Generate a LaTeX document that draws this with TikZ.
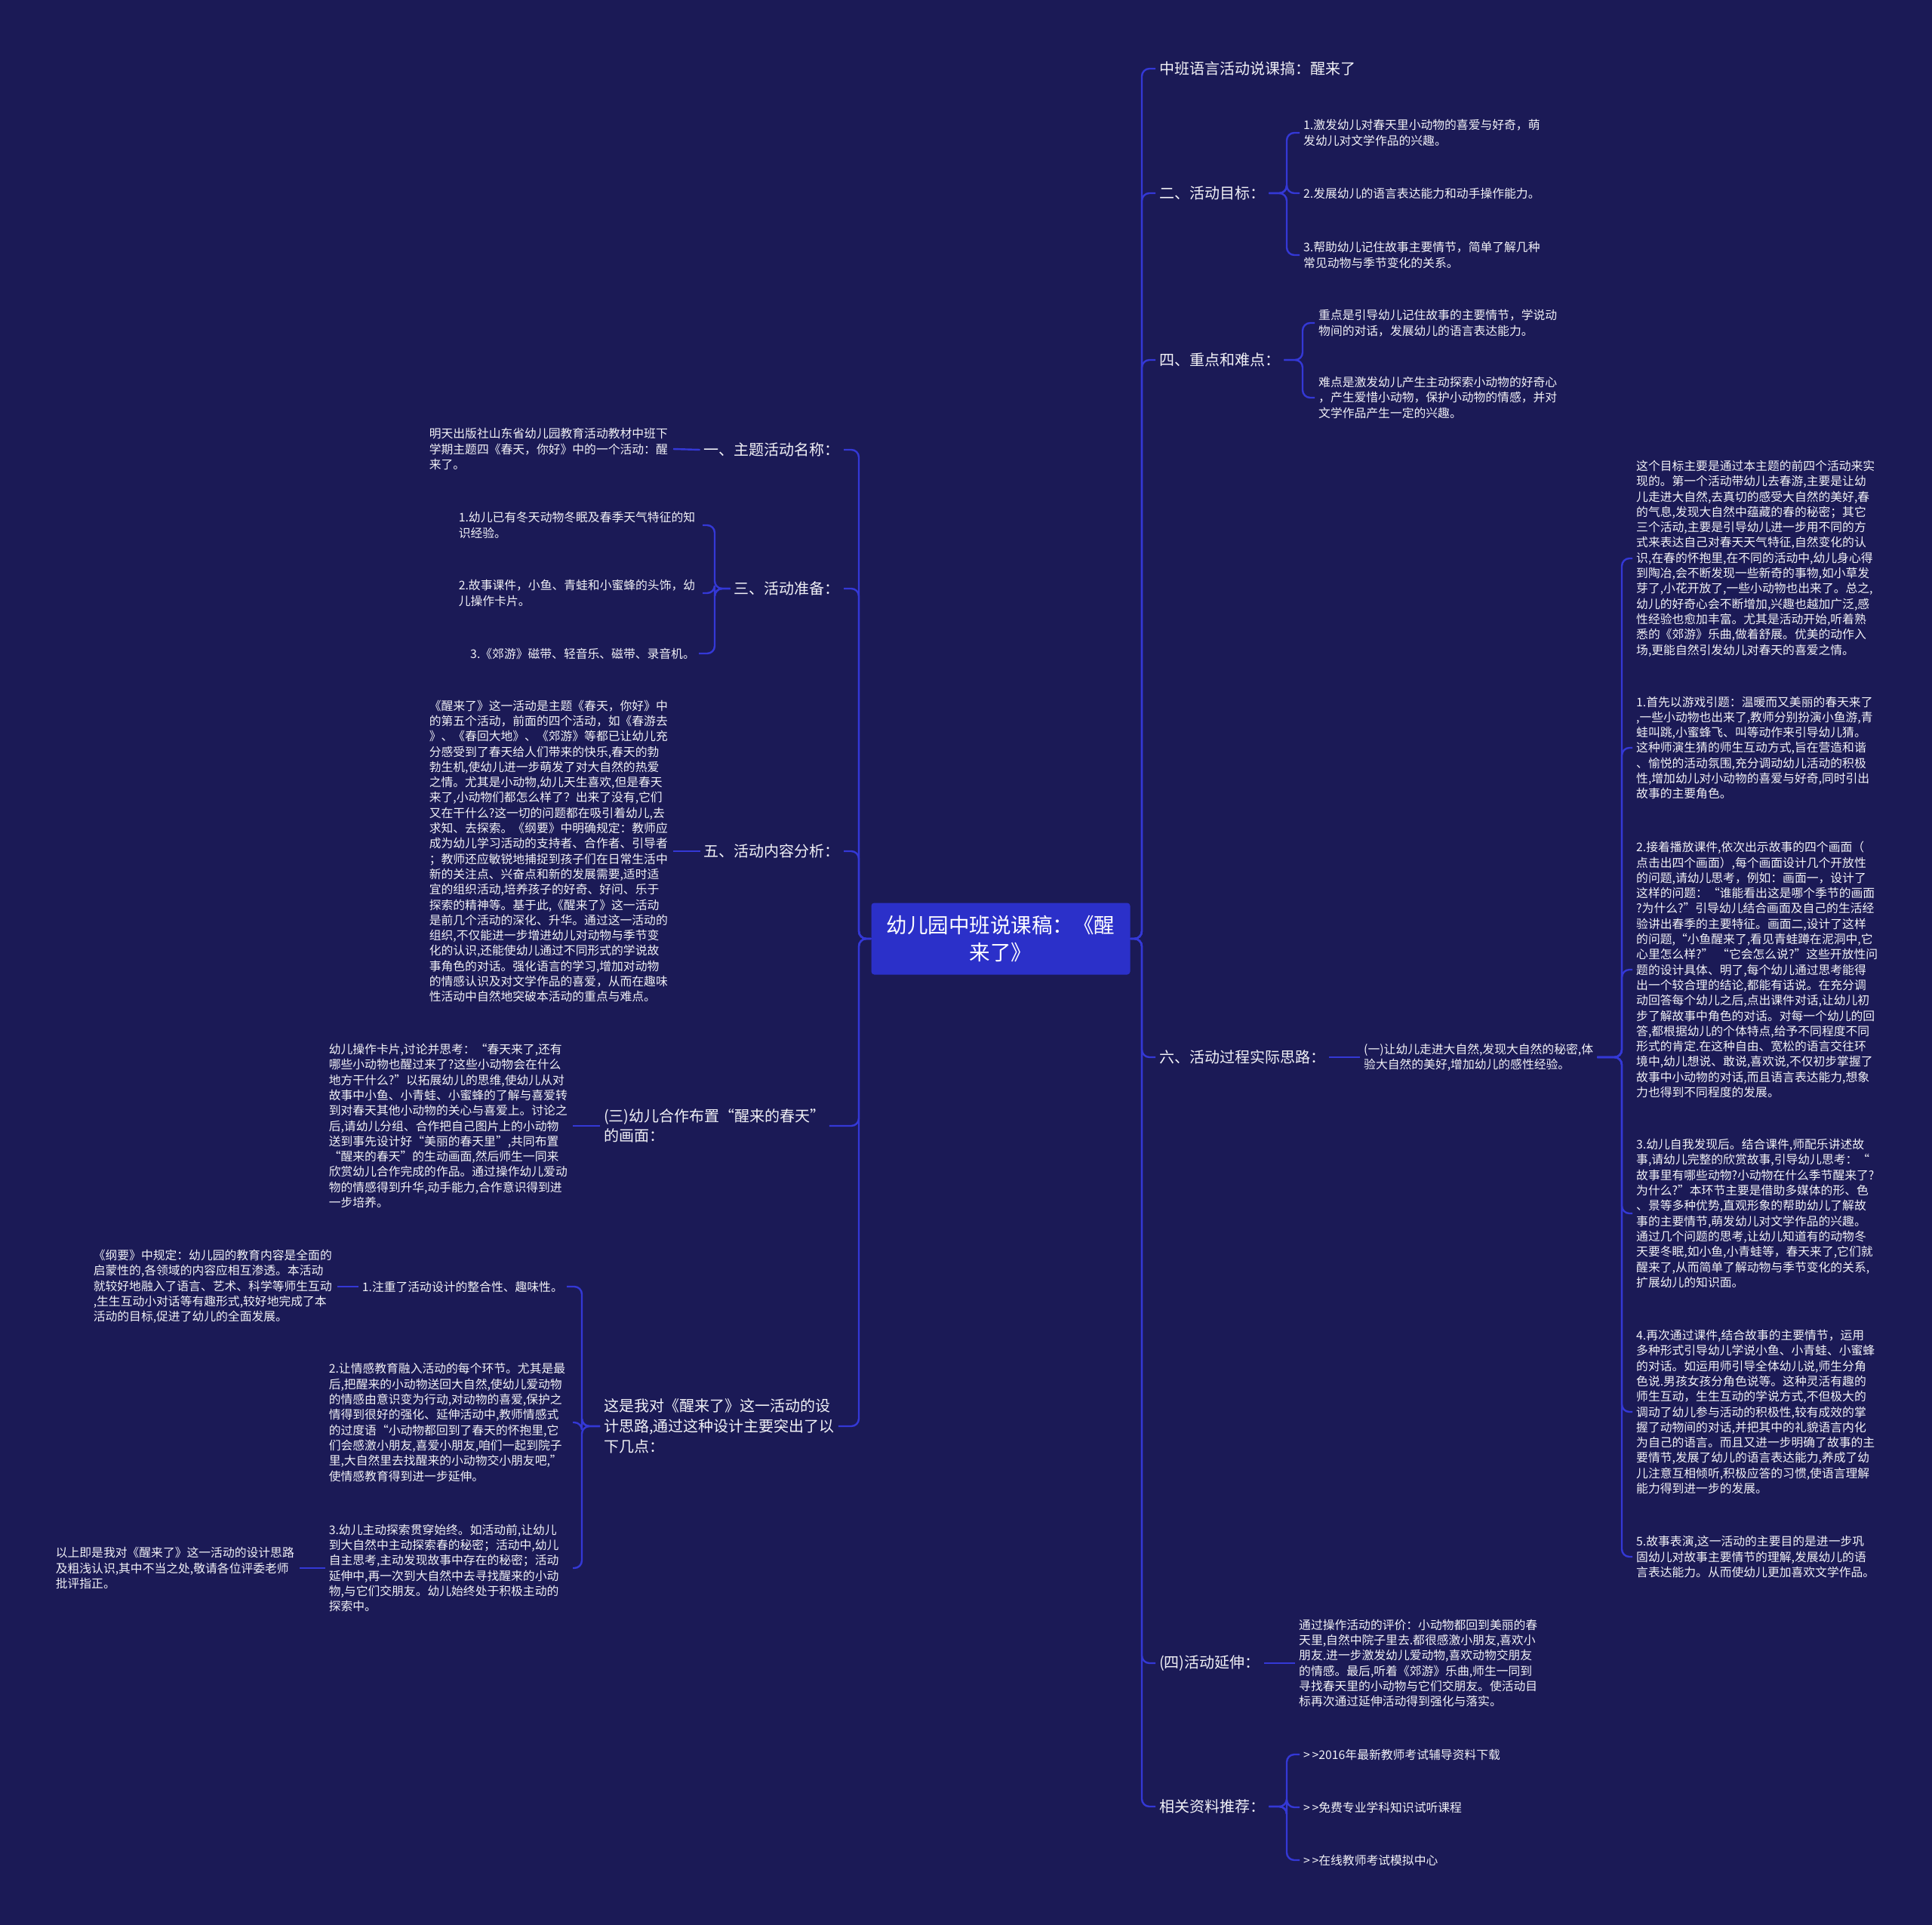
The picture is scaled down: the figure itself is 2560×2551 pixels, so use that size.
\documentclass[tikz,border=0pt]{standalone}
\usepackage{fontspec}
\setmainfont{Noto Sans CJK SC}
\usepackage{xcolor}
\definecolor{mapbg}{HTML}{1B1A56}
\definecolor{mapline}{HTML}{3438D6}
\definecolor{maproot}{HTML}{2B30C9}
\definecolor{maptext}{HTML}{F2F2F7}
\usetikzlibrary{positioning,calc}
\tikzset{
  mb/.style={inner sep=5pt, text=maptext, align=left},
  mtop/.style={mb, font=\fontsize{20}{26}\selectfont},
  mleaf/.style={mb, font=\fontsize{15.8}{20.3}\selectfont},
  mpara/.style={mleaf, text width=318pt},
  mroot/.style={fill=maproot, rounded corners=4pt, text=white, align=center,
    minimum width=343pt, minimum height=95pt, font=\fontsize{27.5}{36}\selectfont},
  ln/.style={draw=mapline, line width=2.4pt, rounded corners=10pt},
}

\begin{document}
\begin{tikzpicture}[x=1pt, y=-1pt]
  \fill[mapbg] (0,0) rectangle (2560,2551);
  \useasboundingbox (0,0) rectangle (2560,2551);

  \node[mroot] (root) at (1326,1244) {幼儿园中班说课稿：《醒\\来了》};
  \coordinate (rtrunk) at (1513,1244);
  \coordinate (ltrunk) at (1138,1244);

  % right side
  \node[mtop, anchor=west] (t0) at (1531,91) {中班语言活动说课搞：醒来了};
  \node[mtop, anchor=west] (g2) at (1531,256) {二、活动目标：};
  \node[mtop, anchor=west] (g4) at (1531,477) {四、重点和难点：};
  \node[mtop, anchor=west] (g6) at (1531,1401) {六、活动过程实际思路：};
  \node[mtop, anchor=west] (gext) at (1531,2204) {(四)活动延伸：};
  \node[mtop, anchor=west] (grec) at (1531,2394) {相关资料推荐：};
  \foreach \n in {t0,g2,g4,g6,gext,grec}
    \draw[ln] (root.east) -- (rtrunk) |- (\n.west);

  \node[mleaf, anchor=west] (g2a) at (1722,176) {1.激发幼儿对春天里小动物的喜爱与好奇，萌\\发幼儿对文学作品的兴趣。};
  \node[mleaf, anchor=west] (g2b) at (1722,256) {2.发展幼儿的语言表达能力和动手操作能力。};
  \node[mleaf, anchor=west] (g2c) at (1722,338) {3.帮助幼儿记住故事主要情节，简单了解几种\\常见动物与季节变化的关系。};
  \coordinate (b2) at (1705,256);
  \foreach \n in {g2a,g2b,g2c}
    \draw[ln] (g2.east) -- (b2) |- (\n.west);

  \node[mleaf, anchor=west] (g4a) at (1742,428) {重点是引导幼儿记住故事的主要情节，学说动\\物间的对话，发展幼儿的语言表达能力。};
  \node[mleaf, anchor=west] (g4b) at (1742,527) {难点是激发幼儿产生主动探索小动物的好奇心\\，产生爱惜小动物，保护小动物的情感，并对\\文学作品产生一定的兴趣。};
  \coordinate (b4) at (1726,477);
  \foreach \n in {g4a,g4b}
    \draw[ln] (g4.east) -- (b4) |- (\n.west);

  \node[mleaf, anchor=west] (g6a) at (1802,1401) {(一)让幼儿走进大自然,发现大自然的秘密,体\\验大自然的美好,增加幼儿的感性经验。};
  \draw[ln] (g6.east) -- (g6a.west);

  \node[mleaf, anchor=west] (p0) at (2163,740) {这个目标主要是通过本主题的前四个活动来实\\现的。第一个活动带幼儿去春游,主要是让幼\\儿走进大自然,去真切的感受大自然的美好,春\\的气息,发现大自然中蕴藏的春的秘密；其它\\三个活动,主要是引导幼儿进一步用不同的方\\式来表达自己对春天天气特征,自然变化的认\\识,在春的怀抱里,在不同的活动中,幼儿身心得\\到陶冶,会不断发现一些新奇的事物,如小草发\\芽了,小花开放了,一些小动物也出来了。总之,\\幼儿的好奇心会不断增加,兴趣也越加广泛,感\\性经验也愈加丰富。尤其是活动开始,听着熟\\悉的《郊游》乐曲,做着舒展。优美的动作入\\场,更能自然引发幼儿对春天的喜爱之情。};
  \node[mleaf, anchor=west] (p1) at (2163,991) {1.首先以游戏引题：温暖而又美丽的春天来了\\,一些小动物也出来了,教师分别扮演小鱼游,青\\蛙叫跳,小蜜蜂飞、叫等动作来引导幼儿猜。\\这种师演生猜的师生互动方式,旨在营造和谐\\、愉悦的活动氛围,充分调动幼儿活动的积极\\性,增加幼儿对小动物的喜爱与好奇,同时引出\\故事的主要角色。};
  \node[mleaf, anchor=west] (p2) at (2163,1285) {2.接着播放课件,依次出示故事的四个画面（\\点击出四个画面）,每个画面设计几个开放性\\的问题,请幼儿思考，例如：画面一，设计了\\这样的问题：“谁能看出这是哪个季节的画面\\?为什么?”引导幼儿结合画面及自己的生活经\\验讲出春季的主要特征。画面二,设计了这样\\的问题,“小鱼醒来了,看见青蛙蹲在泥洞中,它\\心里怎么样?” “它会怎么说?”这些开放性问\\题的设计具体、明了,每个幼儿通过思考能得\\出一个较合理的结论,都能有话说。在充分调\\动回答每个幼儿之后,点出课件对话,让幼儿初\\步了解故事中角色的对话。对每一个幼儿的回\\答,都根据幼儿的个体特点,给予不同程度不同\\形式的肯定.在这种自由、宽松的语言交往环\\境中,幼儿想说、敢说,喜欢说,不仅初步掌握了\\故事中小动物的对话,而且语言表达能力,想象\\力也得到不同程度的发展。};
  \node[mleaf, anchor=west] (p3) at (2163,1608) {3.幼儿自我发现后。结合课件,师配乐讲述故\\事,请幼儿完整的欣赏故事,引导幼儿思考：“\\故事里有哪些动物?小动物在什么季节醒来了?\\为什么?”本环节主要是借助多媒体的形、色\\、景等多种优势,直观形象的帮助幼儿了解故\\事的主要情节,萌发幼儿对文学作品的兴趣。\\通过几个问题的思考,让幼儿知道有的动物冬\\天要冬眠,如小鱼,小青蛙等，春天来了,它们就\\醒来了,从而简单了解动物与季节变化的关系,\\扩展幼儿的知识面。};
  \node[mleaf, anchor=west] (p4) at (2163,1871) {4.再次通过课件,结合故事的主要情节，运用\\多种形式引导幼儿学说小鱼、小青蛙、小蜜蜂\\的对话。如运用师引导全体幼儿说,师生分角\\色说.男孩女孩分角色说等。这种灵活有趣的\\师生互动，生生互动的学说方式,不但极大的\\调动了幼儿参与活动的积极性,较有成效的掌\\握了动物间的对话,并把其中的礼貌语言内化\\为自己的语言。而且又进一步明确了故事的主\\要情节,发展了幼儿的语言表达能力,养成了幼\\儿注意互相倾听,积极应答的习惯,使语言理解\\能力得到进一步的发展。};
  \node[mleaf, anchor=west] (p5) at (2163,2063) {5.故事表演,这一活动的主要目的是进一步巩\\固幼儿对故事主要情节的理解,发展幼儿的语\\言表达能力。从而使幼儿更加喜欢文学作品。};
  \coordinate (b6) at (2149,1401);
  \foreach \n in {p0,p1,p2,p3,p4,p5}
    \draw[ln] (g6a.east) -- (b6) |- (\n.west);

  \node[mleaf, anchor=west] (gexta) at (1716,2204) {通过操作活动的评价：小动物都回到美丽的春\\天里,自然中院子里去.都很感激小朋友,喜欢小\\朋友.进一步激发幼儿爱动物,喜欢动物交朋友\\的情感。最后,听着《郊游》乐曲,师生一同到\\寻找春天里的小动物与它们交朋友。使活动目\\标再次通过延伸活动得到强化与落实。};
  \draw[ln] (gext.east) -- (gexta.west);

  \node[mleaf, anchor=west] (r1) at (1722,2325) {>\,>2016年最新教师考试辅导资料下载};
  \node[mleaf, anchor=west] (r2) at (1722,2395) {>\,>免费专业学科知识试听课程};
  \node[mleaf, anchor=west] (r3) at (1722,2465) {>\,>在线教师考试模拟中心};
  \coordinate (brec) at (1705,2394);
  \foreach \n in {r1,r2,r3}
    \draw[ln] (grec.east) -- (brec) |- (\n.west);

  % left side
  \node[mtop, anchor=east] (l1) at (1118,596) {一、主题活动名称：};
  \node[mtop, anchor=east] (l3) at (1118,780) {三、活动准备：};
  \node[mtop, anchor=east] (l5) at (1118,1128) {五、活动内容分析：};
  \node[mtop, anchor=west] (l7) at (795,1492) {(三)幼儿合作布置“醒来的春天”\\的画面：};
  \node[mtop, anchor=west, font=\fontsize{20}{27}\selectfont] (l9) at (795,1890) {这是我对《醒来了》这一活动的设\\计思路,通过这种设计主要突出了以\\下几点：};
  \foreach \n in {l1,l3,l5,l7,l9}
    \draw[ln] (root.west) -- (ltrunk) |- (\n.east);

  \node[mpara, anchor=east] (l1a) at (892,595) {明天出版社山东省幼儿园教育活动教材中班下\\学期主题四《春天，你好》中的一个活动：醒\\来了。};
  \draw[ln] (l1.west) -- (l1a.east);

  \node[mpara, anchor=east] (l3a) at (931,696) {1.幼儿已有冬天动物冬眠及春季天气特征的知\\识经验。};
  \node[mpara, anchor=east] (l3b) at (931,786) {2.故事课件，小鱼、青蛙和小蜜蜂的头饰，幼\\儿操作卡片。};
  \node[mleaf, anchor=east] (l3c) at (926,866) {3.《郊游》磁带、轻音乐、磁带、录音机。};
  \coordinate (b3) at (947,780);
  \foreach \n in {l3a,l3b,l3c}
    \draw[ln] (l3.west) -- (b3) |- (\n.east);

  \node[mpara, anchor=east] (l5a) at (892,1128) {《醒来了》这一活动是主题《春天，你好》中\\的第五个活动，前面的四个活动，如《春游去\\》、《春回大地》、《郊游》等都已让幼儿充\\分感受到了春天给人们带来的快乐,春天的勃\\勃生机,使幼儿进一步萌发了对大自然的热爱\\之情。尤其是小动物,幼儿天生喜欢,但是春天\\来了,小动物们都怎么样了？出来了没有,它们\\又在干什么?这一切的问题都在吸引着幼儿,去\\求知、去探索。《纲要》中明确规定：教师应\\成为幼儿学习活动的支持者、合作者、引导者\\；教师还应敏锐地捕捉到孩子们在日常生活中\\新的关注点、兴奋点和新的发展需要,适时适\\宜的组织活动,培养孩子的好奇、好问、乐于\\探索的精神等。基于此,《醒来了》这一活动\\是前几个活动的深化、升华。通过这一活动的\\组织,不仅能进一步增进幼儿对动物与季节变\\化的认识,还能使幼儿通过不同形式的学说故\\事角色的对话。强化语言的学习,增加对动物\\的情感认识及对文学作品的喜爱，从而在趣味\\性活动中自然地突破本活动的重点与难点。};
  \draw[ln] (l5.west) -- (l5a.east);

  \node[mpara, anchor=east] (l7a) at (759,1492) {幼儿操作卡片,讨论并思考：“春天来了,还有\\哪些小动物也醒过来了?这些小动物会在什么\\地方干什么?”以拓展幼儿的思维,使幼儿从对\\故事中小鱼、小青蛙、小蜜蜂的了解与喜爱转\\到对春天其他小动物的关心与喜爱上。讨论之\\后,请幼儿分组、合作把自己图片上的小动物\\送到事先设计好“美丽的春天里”,共同布置\\“醒来的春天”的生动画面,然后师生一同来\\欣赏幼儿合作完成的作品。通过操作幼儿爱动\\物的情感得到升华,动手能力,合作意识得到进\\一步培养。};
  \draw[ln] (l7.west) -- (l7a.east);

  \node[mleaf, anchor=east] (l9a) at (751,1705) {1.注重了活动设计的整合性、趣味性。};
  \node[mpara, anchor=east] (l9b) at (759,1885) {2.让情感教育融入活动的每个环节。尤其是最\\后,把醒来的小动物送回大自然,使幼儿爱动物\\的情感由意识变为行动,对动物的喜爱,保护之\\情得到很好的强化、延伸活动中,教师情感式\\的过度语“小动物都回到了春天的怀抱里,它\\们会感激小朋友,喜爱小朋友,咱们一起到院子\\里,大自然里去找醒来的小动物交小朋友吧,”\\使情感教育得到进一步延伸。};
  \node[mpara, anchor=east] (l9c) at (759,2078) {3.幼儿主动探索贯穿始终。如活动前,让幼儿\\到大自然中主动探索春的秘密；活动中,幼儿\\自主思考,主动发现故事中存在的秘密；活动\\延伸中,再一次到大自然中去寻找醒来的小动\\物,与它们交朋友。幼儿始终处于积极主动的\\探索中。};
  \coordinate (b9) at (771,1890);
  \foreach \n in {l9a,l9b,l9c}
    \draw[ln] (l9.west) -- (b9) |- (\n.east);

  \node[mpara, anchor=east] (l9aa) at (447,1705) {《纲要》中规定：幼儿园的教育内容是全面的\\启蒙性的,各领域的内容应相互渗透。本活动\\就较好地融入了语言、艺术、科学等师生互动\\,生生互动小对话等有趣形式,较好地完成了本\\活动的目标,促进了幼儿的全面发展。};
  \draw[ln] (l9a.west) -- (l9aa.east);

  \node[mpara, anchor=east] (l9ca) at (397,2078) {以上即是我对《醒来了》这一活动的设计思路\\及粗浅认识,其中不当之处,敬请各位评委老师\\批评指正。};
  \draw[ln] (l9c.west) -- (l9ca.east);
\end{tikzpicture}
\end{document}
